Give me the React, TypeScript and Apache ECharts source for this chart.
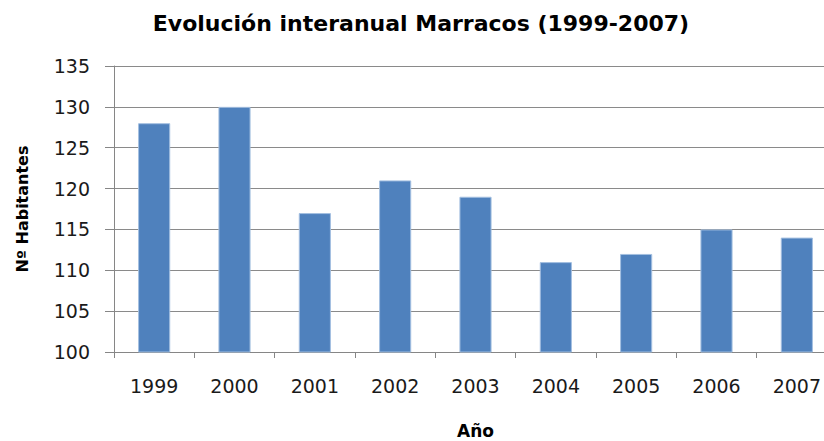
import React, { useEffect, useRef } from "react";
import * as echarts from "echarts";

const years = ["1999", "2000", "2001", "2002", "2003", "2004", "2005", "2006", "2007"];
const habitantes = [128, 130, 117, 121, 119, 111, 112, 115, 114];

const titleText = "Evolución interanual Marracos (1999-2007)";
const xName = "Año";
const yName = "Nº Habitantes";

export default function App() {
  const ref = useRef<HTMLDivElement>(null);
  useEffect(() => {
    document.body.style.margin = "0";
    document.body.style.overflow = "hidden";
    const chart = echarts.init(ref.current!, null, { renderer: "svg" });
    const font = "DejaVu Sans";
    chart.setOption({
      animation: false,
      backgroundColor: "#ffffff",
      title: {
        text: titleText,
        left: 416,
        top: 7,
        textAlign: "center",
        textStyle: { fontFamily: font, fontSize: 22, fontWeight: "bold", color: "#000" },
      },
      grid: {
        left: 114,
        top: 66,
        width: 723,
        height: 286,
        containLabel: false,
        outerBoundsMode: "none",
      },
      xAxis: {
        type: "category",
        data: years,
        name: xName,
        nameLocation: "middle",
        nameGap: 71,
        nameTextStyle: {
          fontFamily: font,
          fontSize: 17,
          lineHeight: 16,
          fontWeight: "bold",
          color: "#000",
        },
        axisLine: { lineStyle: { color: "#868686", width: 1 } },
        axisTick: { show: true, length: 6, lineStyle: { color: "#868686" } },
        axisLabel: { fontFamily: font, fontSize: 19, color: "#1a1a1a", margin: 24 },
      },
      yAxis: {
        type: "value",
        min: 100,
        max: 135,
        interval: 5,
        name: yName,
        nameLocation: "middle",
        nameRotate: 90,
        nameGap: 84,
        nameTextStyle: { fontFamily: font, fontSize: 16, fontWeight: "bold", color: "#000" },
        axisLine: { show: true, lineStyle: { color: "#868686", width: 1 } },
        axisTick: { show: true, length: 9, lineStyle: { color: "#868686" } },
        axisLabel: { fontFamily: font, fontSize: 19, color: "#1a1a1a", margin: 24 },
        splitLine: { show: true, lineStyle: { color: "#8a8a8a", width: 1 } },
      },
      series: [
        {
          type: "bar",
          data: habitantes,
          barWidth: "40%",
          itemStyle: { color: "#4F81BD", borderColor: "#a3bfe0", borderWidth: 1 },
        },
      ],
    });
    return () => chart.dispose();
  }, []);
  return (
    <div
      ref={ref}
      style={{ position: "fixed", left: 0, top: 0, width: 850, height: 441 }}
    />
  );
}
